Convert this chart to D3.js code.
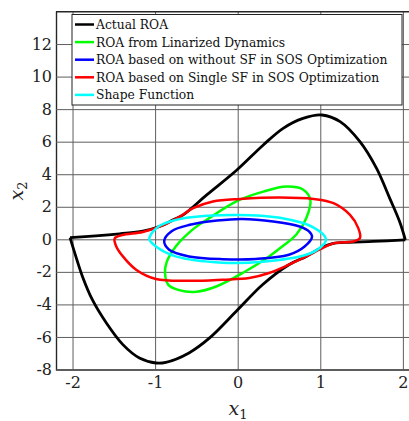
<!DOCTYPE html>
<html><head><meta charset="utf-8">
<script src="https://cdn.jsdelivr.net/npm/d3@7"></script>
<style>body{margin:0;background:#fff}svg{display:block}</style>
</head><body>
<svg id="c" width="409" height="421"></svg>
<script>
const xTicks = [-2, -1, 0, 1, 2];
const yTicks = [-8, -6, -4, -2, 0, 2, 4, 6, 8, 10, 12];
const legendLabels = ["Actual ROA", "ROA from Linarized Dynamics", "ROA based on without SF in SOS Optimization", "ROA based on Single SF in SOS Optimization", "Shape Function"];
const seriesColors = ["#000000", "#00ff00", "#0000ff", "#ff0000", "#00ffff"];

const actualUpper = [[-2.03,0.10],[-1.72,0.21],[-1.43,0.34],[-1.15,0.50],[-0.94,0.80],[-0.78,1.20],[-0.66,1.50],[-0.375,2.73],[-0.01,4.26],[0.31,5.80],[0.55,6.82],[0.79,7.43],[1.02,7.64],[1.24,7.23],[1.48,6.00],[1.68,4.37],[1.84,2.53],[1.96,1.09],[2.03,-0.03]];
const actualLower = [[2.03,-0.03],[1.64,-0.13],[1.35,-0.18],[1.16,-0.25],[1.00,-0.55],[0.83,-1.05],[0.62,-1.56],[0.30,-2.79],[0.00,-4.33],[-0.34,-6.06],[-0.59,-6.98],[-0.87,-7.56],[-0.99,-7.60],[-1.19,-7.29],[-1.39,-6.47],[-1.59,-5.14],[-1.76,-3.71],[-1.88,-2.28],[-1.96,-1.05],[-2.03,0.10]];
const linearized = [[0.59,3.24],[0.79,3.06],[0.88,2.40],[0.83,1.30],[0.71,0.30],[0.55,-0.40],[0.38,-1.05],[0.06,-2.07],[-0.26,-2.90],[-0.50,-3.22],[-0.71,-3.12],[-0.84,-2.80],[-0.88,-2.07],[-0.86,-1.40],[-0.75,-0.44],[-0.55,0.58],[-0.375,1.20],[-0.01,2.35],[0.31,2.93]];
const withoutSF = [[-0.89,-0.10],[-0.80,0.50],[-0.58,0.89],[-0.25,1.15],[0.05,1.25],[0.43,1.10],[0.75,0.79],[0.86,0.50],[0.90,0.15],[0.81,-0.44],[0.62,-0.95],[0.22,-1.21],[-0.18,-1.22],[-0.59,-1.05],[-0.83,-0.64]];
const singleSF = [[-1.49,0.05],[-1.40,0.26],[-1.15,0.45],[-0.94,0.79],[-0.70,1.40],[-0.54,1.91],[-0.30,2.32],[0.03,2.48],[0.51,2.57],[0.92,2.48],[1.16,2.22],[1.36,1.50],[1.46,0.69],[1.48,0.07],[1.40,-0.13],[1.16,-0.25],[1.00,-0.60],[0.83,-1.05],[0.62,-1.56],[0.38,-2.07],[0.14,-2.38],[-0.18,-2.48],[-0.59,-2.55],[-0.99,-2.44],[-1.23,-1.87],[-1.39,-1.05],[-1.47,-0.44]];
const shapeFn = [[-1.07,0.00],[-1.03,0.45],[-0.94,0.85],[-0.62,1.32],[0.00,1.50],[0.51,1.32],[0.92,0.72],[1.07,0.00],[1.00,-0.50],[0.83,-0.95],[0.30,-1.38],[-0.18,-1.44],[-0.75,-1.05],[-0.99,-0.44]];

const svg = d3.select("#c");
const L = 56, R = 419.4, T = 11.5, B = 369.5;
const x = d3.scaleLinear().domain([-2.2, 2.2]).range([L, R]);
const y = d3.scaleLinear().domain([-8, 14]).range([B, T]);
const serif = "'DejaVu Serif', serif";

// grid + axes
const gx = svg.append("g").attr("transform", `translate(0,${B})`)
  .call(d3.axisBottom(x).tickValues(xTicks).tickSize(-(B - T)).tickPadding(7).tickFormat(d => String(d)));
const gy = svg.append("g").attr("transform", `translate(${L},0)`)
  .call(d3.axisLeft(y).tickValues(yTicks).tickSize(-(R - L)).tickPadding(4).tickFormat(d => String(d)));
[gx, gy].forEach(g => {
  g.attr("font-family", null).attr("font-size", null);
  g.selectAll(".tick line").attr("stroke", "#5e5e5e").attr("stroke-width", 1);
  g.select(".domain").attr("stroke", "#262626").attr("stroke-width", 1.2);
  g.selectAll("text").style("font-family", serif).style("font-size", "16px").attr("fill", "#222");
});
gx.selectAll("text").attr("dy", "0.72em");
// top frame
svg.append("line").attr("x1", L).attr("x2", R).attr("y1", y(14)).attr("y2", y(14)).attr("stroke", "#262626").attr("stroke-width", 1.2);

// curves
const closed = d3.line().x(d => x(d[0])).y(d => y(d[1])).curve(d3.curveCatmullRomClosed.alpha(0.5));
const open = d3.line().x(d => x(d[0])).y(d => y(d[1])).curve(d3.curveCatmullRom.alpha(0.5));
const g = svg.append("g").attr("fill", "none").attr("stroke-linejoin", "round");
g.append("path").attr("d", open(actualUpper)).attr("stroke", seriesColors[0]).attr("stroke-width", 2.8);
g.append("path").attr("d", open(actualLower)).attr("stroke", seriesColors[0]).attr("stroke-width", 2.8);
g.append("path").attr("d", closed(linearized)).attr("stroke", seriesColors[1]).attr("stroke-width", 2.5);
g.append("path").attr("d", closed(withoutSF)).attr("stroke", seriesColors[2]).attr("stroke-width", 2.5);
g.append("path").attr("d", closed(singleSF)).attr("stroke", seriesColors[3]).attr("stroke-width", 2.5);
g.append("path").attr("d", closed(shapeFn)).attr("stroke", seriesColors[4]).attr("stroke-width", 2.5);

// legend
const lg = svg.append("g");
lg.append("rect").attr("x", 72).attr("y", 14.5).attr("width", 330).attr("height", 90.5)
  .attr("fill", "#fff").attr("stroke", "#222").attr("stroke-width", 1);
legendLabels.forEach((lab, i) => {
  const cy = 24.5 + i * 17.6;
  lg.append("line").attr("x1", 75).attr("x2", 94).attr("y1", cy).attr("y2", cy)
    .attr("stroke", seriesColors[i]).attr("stroke-width", 2.5);
  lg.append("text").attr("x", 96).attr("y", cy + 4.5).text(lab)
    .style("font-family", serif).style("font-size", "12.3px").attr("fill", "#111");
});

// axis labels
const xl = svg.append("text").attr("x", 238).attr("y", 415).attr("text-anchor", "middle")
  .style("font-family", serif).style("font-size", "19px").attr("fill", "#222");
xl.append("tspan").style("font-style", "italic").text("x");
xl.append("tspan").style("font-size", "13px").attr("dy", 4).text("1");
const yl = svg.append("text").attr("transform", "translate(23,191) rotate(-90)").attr("text-anchor", "middle")
  .style("font-family", serif).style("font-size", "19px").attr("fill", "#222");
yl.append("tspan").style("font-style", "italic").text("x");
yl.append("tspan").style("font-size", "13px").attr("dy", 4).text("2");
</script>
</body></html>
